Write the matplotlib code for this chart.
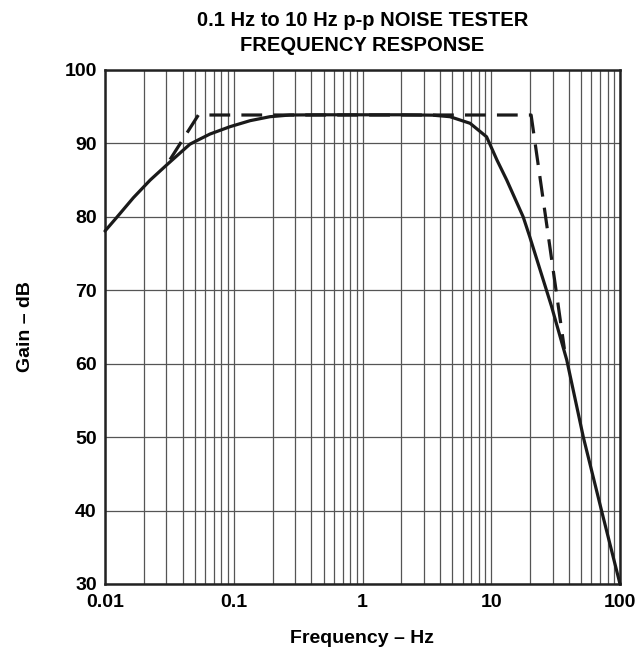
import matplotlib
matplotlib.use("Agg")
import matplotlib.pyplot as plt
from matplotlib.ticker import FixedLocator, NullFormatter

plt.rcParams['font.family'] = ['Liberation Sans', 'DejaVu Sans']
plt.rcParams['font.weight'] = 'bold'

freq_meas = [0.01, 0.0123, 0.0166, 0.0224, 0.0301, 0.0406, 0.0457, 0.0547, 0.0654,
             0.076, 0.0935, 0.134, 0.191, 0.273, 0.5, 1.0, 2.0, 3.5, 4.78,
             6.85, 9.2, 11.1, 13.2, 17.7, 19.9, 29.4, 38.6, 51.9, 72.1, 100.0]
gain_meas = [78.07, 79.9, 82.6, 85.0, 87.06, 89.1, 89.9, 90.6, 91.28,
             91.7, 92.28, 93.1, 93.64, 93.87, 93.9, 93.9, 93.9, 93.85, 93.64,
             92.74, 90.9, 87.7, 85.0, 80.0, 77.3, 67.8, 60.5, 50.0, 39.9, 30.0]

# Asymptotic response (dashed)
freq_asym = [0.032, 0.0531, 20.4, 37.0]
gain_asym = [87.8, 93.87, 93.87, 62.0]

x_ticks = [0.01, 0.1, 1, 10, 100]
x_ticklabels = ["0.01", "0.1", "1", "10", "100"]
y_ticks = [30, 40, 50, 60, 70, 80, 90, 100]

title = "0.1 Hz to 10 Hz p-p NOISE TESTER\nFREQUENCY RESPONSE"
xlabel = "Frequency – Hz"
ylabel = "Gain – dB"

fig = plt.figure(figsize=(6.36, 6.50), dpi=100)
ax = fig.add_axes([105/636, 66/650, 515/636, 514/650])

ax.set_xscale('log')
ax.set_xlim(0.01, 100)
ax.set_ylim(30, 100)

minor = [m * 10.0**e for e in range(-2, 2) for m in range(2, 10)]
ax.xaxis.set_major_locator(FixedLocator(x_ticks))
ax.xaxis.set_minor_locator(FixedLocator(minor))
ax.xaxis.set_minor_formatter(NullFormatter())
ax.set_xticks(x_ticks)
ax.set_xticklabels(x_ticklabels)
ax.set_yticks(y_ticks)

ax.grid(True, which='both', axis='x', color='#555555', linewidth=0.9)
ax.grid(True, which='major', axis='y', color='#555555', linewidth=0.9)
ax.set_axisbelow(True)

ax.tick_params(axis='x', which='both', length=0, labelsize=14, pad=7)
ax.tick_params(axis='y', which='both', length=0, labelsize=14, pad=6)
for lab in ax.get_xticklabels() + ax.get_yticklabels():
    lab.set_fontweight('bold')
for lab in ax.get_yticklabels():
    lab.set_verticalalignment('center_baseline')

for s in ax.spines.values():
    s.set_linewidth(1.8)
    s.set_color('#222222')

ax.plot(freq_meas, gain_meas, color='#1a1a1a', linewidth=2.3, solid_joinstyle='round',
        solid_capstyle='round', zorder=3, clip_on=False)
ax.plot(freq_asym, gain_asym, color='#1a1a1a', linewidth=2.3, dashes=(6.5, 3.5),
        zorder=3)

ax.set_title(title, fontsize=14.5, fontweight='bold', pad=14, linespacing=1.4)
ax.set_xlabel(xlabel, fontsize=14, fontweight='bold', labelpad=14)
ax.set_ylabel(ylabel, fontsize=14, fontweight='bold', labelpad=22)

fig.savefig("out.png", dpi=100)
